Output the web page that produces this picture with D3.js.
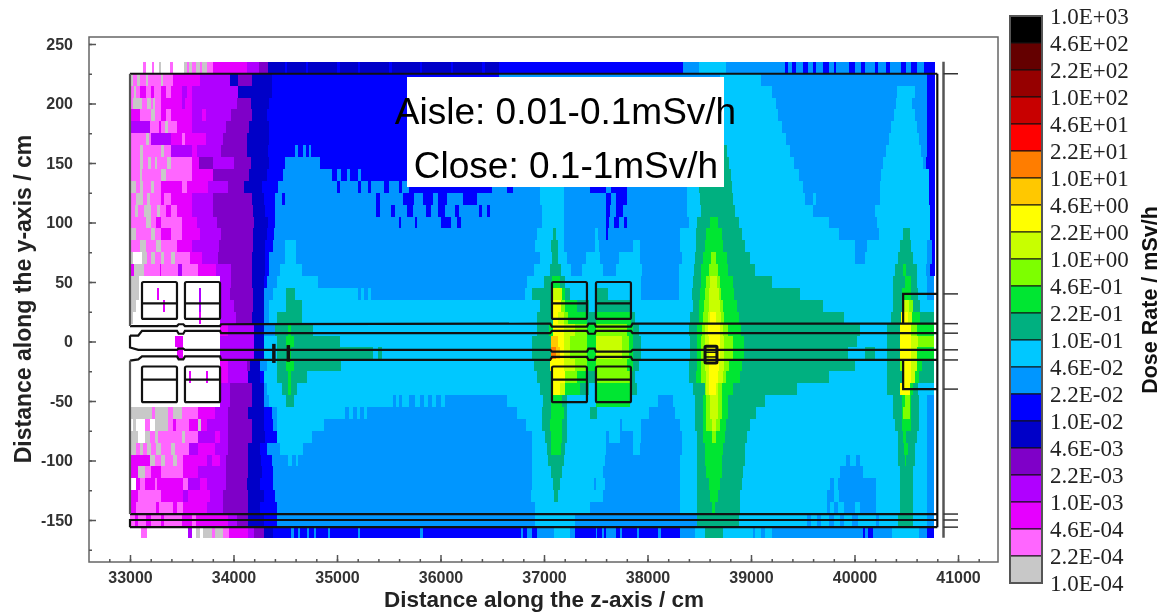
<!DOCTYPE html>
<html>
<head>
<meta charset="utf-8">
<script src="https://cdn.jsdelivr.net/npm/d3@7"></script>
<style>
  html, body { margin: 0; padding: 0; background: #fff; }
  svg { display: block; filter: blur(0.4px); }
</style>
</head>
<body>
<svg id="chart" width="1172" height="614"></svg>
<script>
// Legend, top to bottom
const doseLabels = ["1.0E+03", "4.6E+02", "2.2E+02", "1.0E+02", "4.6E+01", "2.2E+01", "1.0E+01",
  "4.6E+00", "2.2E+00", "1.0E+00", "4.6E-01", "2.2E-01", "1.0E-01", "4.6E-02", "2.2E-02", "1.0E-02",
  "4.6E-03", "2.2E-03", "1.0E-03", "4.6E-04", "2.2E-04", "1.0E-04"];
const doseColors = ["#000000", "#640000", "#960000", "#c80000", "#ff0000", "#ff7d00", "#ffc800",
  "#ffff00", "#c8ff00", "#7dff00", "#00e632", "#00b080", "#00c8ff", "#0096ff", "#0000ff", "#0000c8",
  "#7f00c8", "#b000ff", "#e600ff", "#ff66ff", "#c8c8c8"];
// letter of a dose bin, a = lowest (1.0E-04), u = highest
const binLetters = "abcdefghijklmnopqrstu";

const zMajorTicks = [33000, 34000, 35000, 36000, 37000, 38000, 39000, 40000, 41000];
const yMajorTicks = [250, 200, 150, 100, 50, 0, -50, -100, -150];

// One string per 10 cm row, from y=235 down to y=-165.
// Each token is a bin letter and the z where the run ends, in units of 100 cm. "." = below scale.
const doseRows = [
  ".331.3 b331.5 .332.1 b332.3 .332.8 a333 .333.9 b334.2 .335.2 a335.5 b335.7 a336 b336.4 a336.8 b337 a337.4 b338 c341.3 d342.5 e343.3 f345 g345.2 f347 g347.2 f350 g350.3 f352 g352.2 f355 g355.3 f358 g358.2 f361 g361.2 f364 g364.3 f365.7 g383.4 h385 i387.6 h393.3 g393.6 h394 g394.3 h395 g395.5 h396 g396.3 h397 g397.5 h398 g398.2 h399.5 g400 h400.6 g401 h402 g402.3 h403 g403.4 h404.5 g405 h405.5 g406 h406.7 g407.8",
  "a330.3 b330.7 a331 b331.5 a331.7 b333 a333.2 b334.2 c336.8 d339.7 f340.4 e341.8 f343.7 g365.7 h387 i391 h407 g407.8",
  "b330.4 a330.6 b331 c331.5 b332 c332.3 b333 c333.5 b334 c335 d335.5 c336 d340.4 f343.7 g365.7 h387 i392 h404.1 i405.8 h407 g407.8",
  "b330.3 a331.2 b331.6 a332 b332.2 a332.4 b333 c335 d335.3 c336 d340.3 e341.7 f343.4 g365.7 h387 i392.4 h404 i405.6 h407 g407.8",
  "c331 b332 a332.4 b333 c333.5 b334 c336 d337 c337.3 d339.8 e341.8 f343.2 g365.7 h387 i392.6 h403.8 i405.8 h407 g407.8",
  "d331.9 b332.8 c333 b333.4 a333.7 b334.5 c336 d339.3 e341.5 f343.4 g365.7 h387 i393 h403.5 i406 h407 g407.8",
  "b331.5 a331.8 b332 d334 c335 b335.3 c337.3 d339 e341.3 f343.4 g365.7 h387 i393.4 h403.3 i406.2 h407 g407.8",
  "b331 a331.3 b333 a333.3 b334 d336 c336.5 d338.8 e341.3 f343.3 g345.9 h346.2 g346.7 h347 g347.3 h347.5 g365.7 h385 j387.7 i393.8 h403 i406.4 h407 g407.8",
  "b331 a331.3 b331.7 a332 b332.4 a332.6 b333.6 a334 b336 c336.7 e338 d340 e341.7 f343.4 g345 h348.4 g365.7 h385 j387.9 i394.2 h402.8 i406.6 h406.9 g407.8",
  "b331 a331.2 b333 a333.5 b336 c338 e341.5 f343.2 g344.8 h349.5 g350 h350.4 g351 h351.3 g352 h352.3 g365.7 h385 j388.1 i394.6 h402.6 i407.2 g407.8",
  "a330.6 b331 a331.3 b332 a332.3 b333 c335 b335.5 c337.5 d339.5 e341 f342.8 g344.3 h350 g350.3 h352 g352.3 h353 g353.3 h354.5 g355 h356 g356.3 h357 g365 h366.4 g367 h369.6 i371.9 h374.4 g376 h376.5 g378 h383.8 i385 j388.2 i395 h402.5 i407.2 g407.8",
  "b330.6 a331.3 b331.6 a331.9 b333 c333.3 b334 c336 d338 e341.8 f342.9 g344 h344.7 g345 h353.8 g354.2 h356.4 g357.4 h358.3 g359.3 h359.8 g360.6 h362.2 g363.5 h369.6 i371.9 h376 g376.5 h377 g378 h383.8 i385.1 j388.3 i395.2 h396 i396.3 h402.5 i407.2 g407.8",
  "b330.5 a330.8 b331.4 a332 b332.6 a332.9 b333.5 c334 b334.5 c336 d338 e341.9 f343 g344 h353.8 g354.2 h355.2 g355.6 h356.8 g357.3 h358.6 g359.1 h359.8 g360.4 h361.4 g361.8 h363.7 g364 h364.5 g364.8 h369.8 i371.9 h376 g376.4 h377 g377.6 h383.8 i385.2 j388.5 i396 h402 i407.3 g407.8",
  "b331.5 a332 b332.5 c333 b335 c336.5 d338.4 e342 f343.3 g344 h356 g356.2 h357.5 g357.7 h360 g361 h361.6 g362 h369.8 i371.9 h376 g376.3 h376.8 g377.2 h377.7 g378 h384 i384.75 j386 k386.85 j388.8 i397.5 h402.2 i407.3 g407.8",
  "a330.6 b332 a332.4 b333 c334 b335 c336.8 d338.8 e341.9 f343.2 g343.9 h369.3 i370.9 j371.2 i371.9 h374.9 i375.2 h376 g376.2 h383.1 i384.7 j385.7 k387.2 j389.1 i398.5 h402.4 i404.7 j405.4 i407.3 g407.8",
  "b331 a331.5 b332.5 a333 b334.5 c336 d338.6 e341.9 f343 g343.8 h345 i346 h369.1 i370.7 j371.4 i371.9 h374.9 i375.3 h378.6 i379.3 h383.1 i384.7 j385.55 k387.3 j389.4 i400 h401.2 i404.4 j405.5 i407 h407.5 g407.8",
  "a330.3 .331.2 a331.6 b332 a332.4 b333 a333.3 b334 a334.3 b335.8 c337 d338.5 e341.75 f343 g343.4 h345 i346 h369.6 i370.8 j371.4 i372.2 h374.1 i375.4 h377.2 i379.3 h383.3 i384.6 j385.4 k386.1 l386.6 k387.7 j389.9 i400 h401 i404.2 j405.7 i407 h407.5 g407.8",
  "c330.4 a331.4 b332.9 c333 b334.6 d335 b336.6 c338.3 d339.8 e341.75 f343 g343.4 h344.5 i346.6 h369 i370.6 j371.6 i372.6 h373.7 i375.7 h377 i379.5 h383 i384.5 j385.2 k385.9 l386.85 k387.8 j390.4 i403.9 j404.7 k405 j406 i406.9 h407.3 g407.8",
  "a330.9 .338.7 d339.8 e341.75 f342.9 g343.2 h344.2 i348.2 h368.4 i370 j370.8 k371.5 j372 i379.4 h383 i384.4 j385.2 k385.7 l386 m386.7 l387 k388.3 j392 i403.7 j404.9 k405.5 j406 i407 h407.7",
  "a330.9 .332.6 c332.8 .336.7 d336.9 .338.7 d339.7 e341.9 f342.9 h343.8 i345.1 j345.9 i352 h352.3 i352.6 h353 i353.3 h368.2 i368.8 j370.8 m371.7 k372 j372.5 i375 j376.2 i379.4 h383 i384.3 j385.1 k385.6 l385.9 m386.9 l387.1 k388.4 j394.7 i403.7 j404.6 k405.5 j406.1 i407 h407.7",
  "a330.6 .333.2 c333.4 .336.7 d336.9 .338.7 d340 e341.9 f342.9 h343.4 i345.1 j346.6 i369.6 j370.8 n371.6 l372 k373.2 j374.3 i375 j378.4 i384.4 j385 k385.5 l385.9 m387 l387.3 k388.6 j397 i403.7 j404.6 m405.3 l405.7 j406.3 i407.7",
  "a330.3 .336.7 c336.9 .338.7 d340.2 e341.75 f342.9 h343.4 i344.2 j346.6 i369.3 j370.9 n371.4 m371.9 l372.3 k374.2 j375 k378.4 j378.8 i384.1 j385 k385.4 l385.8 m386 n386.6 m387.1 l387.4 k388.8 j399 i403.5 j404.5 n405.2 m405.6 k406.3 j407.7",
  ".338.7 c339.5 d342 f342.9 h344 j345.3 k345.6 j347.7 i369.3 j370.5 k370.9 n371.9 m373 l374.2 k375 l378 k378.6 j379.2 i384 j384.8 k385.3 l385.6 m385.8 n387 m387.3 l387.8 k389 j400.5 i403.1 j404.4 n405.5 l406 k407.7",
  ".334.3 c335.15 .338.7 d342 f342.9 i344.2 j345.1 k345.8 j350.3 i368.8 j370.7 o371.4 n371.9 m372.5 l374.2 k375 m377.5 l378.2 k378.6 j379.4 i384.1 j384.8 k385.2 l385.6 m385.9 n387 m387.4 l388.3 k389.3 j400.2 i403.1 j404.4 n405.5 m406.1 l407.7",
  ".334.5 c335.15 .338.7 d342 f342.9 i344.2 j345.3 k345.6 j353.5 i354 j354.3 i368.8 j370.7 p371.2 o371.5 n371.9 m372.5 l374.2 k375 m377.5 l378.2 k378.6 j379.4 i384.1 j384.8 k385.2 l385.6 m385.9 n387 m387.4 l388.3 k389.3 j399.4 i401 j402 i403.1 j404.4 n405.5 m406 k407.7",
  ".338.7 c339.5 d341.3 e341.6 f342.6 h343.2 i344.2 j345.1 k345.8 j350.4 i369 j370.6 n371.9 m373 l374.2 k375 l378 k378.6 j379.2 i384 j384.8 k385.2 l385.6 m385.9 n386.9 m387.4 l387.9 k389.1 j400 i403.1 j404.4 l404.7 n405.5 m406 k406.5 j407.7",
  ".335.7 c335.9 .337.3 c337.5 .338.7 c339.5 d341.4 f342.6 g342.9 i344.2 j345.3 k345.6 j347.1 i369.3 j370.9 n372 l373.2 k374.2 j375 l378.4 j378.8 i384 j384.7 k385.2 l385.7 m385.9 n386.8 m387.3 l387.6 k388.9 j397.5 i403.1 j404.65 n405.5 m405.8 k406.2 j407.7",
  ".338.7 d339.7 e341.75 f342.9 h343.2 i344.7 j345.3 k345.6 j346.1 i369.6 j370.8 n371.5 m372 k373.5 j374.3 i375 k378.4 j379 i384.4 j385.55 l385.7 m385.9 n386.6 m386.8 l387.2 k388.3 j394.4 i403.1 j404.4 n405.4 k405.7 j406.1 i407.7",
  ".338.7 d339.7 e341.75 f342.9 h343.4 i345.1 j345.8 i355.4 h355.7 i356 h356.3 i357 h357.5 i358 h358.4 i358.8 h359.2 i359.6 h360 i360.4 h366.4 i369.9 j370.7 k371.7 j372.2 i375 k378.3 i381 h382.5 i384.6 j385.4 k385.7 l386 m386.8 l387.2 k387.8 j391.35 i403.7 j404.55 k404.9 l405.4 k405.5 j406.2 i407 h407.7",
  "a332.1 b332.4 a333.7 b334.2 a335 b336.6 c338.2 d339.5 e341.4 f342.9 g343.7 h344.2 i350.8 h351.2 i351.5 h351.9 i352.2 h352.6 i352.9 h367.4 i369.8 j370.7 k371.9 j372.2 i374.4 j375.1 i380.1 h382.7 i384.6 j385.4 k385.7 l386 m386.8 l387.2 k387.8 j390.5 i403.7 j404.55 k404.7 l405.4 k405.5 j406.2 i407 h407.7",
  ".330.3 a330.6 .331.45 b331.9 .332.4 a333.7 b334.2 c334.4 b335.7 c336.6 a336.9 c337.4 d339.5 e341.75 f342.9 g343.85 h344.2 i348.7 h368.3 i369.8 j370.6 k371.7 j372.2 i377.3 h377.5 i379.4 h383.1 i384.6 j385.4 k385.7 l386.2 m386.6 l387 k387.6 j389.9 i403.9 j404.55 k405.5 j406.2 i407 h407.7",
  "a330.8 .331.45 a331.9 b332.4 a332.7 b335 a335.3 b336.6 d338.2 c338.7 d339.5 e341.75 f343 g344.2 i347.6 h368.8 i370.1 j370.7 k371.7 j372.2 i376 h376.3 i377.3 h378.6 i379.4 h383.3 i384.75 j385.4 k386.2 l386.6 k387.5 j389.6 i404.2 j404.7 k405 j406 i407 h407.7",
  "a330.6 b331 a331.3 b331.6 a332 b332.5 a333 b334 a334.3 b335.7 d336.6 c338.2 d339.5 e341.4 f342.6 g343.2 h344.5 i346.75 h368.8 i370.3 j370.7 k371.6 j372 i376 h378.6 i379.3 h383.3 i384.75 j385.55 k387.3 j389.4 i404.2 j404.8 k405.2 j405.8 i407 h407.7",
  "c331.9 a332.4 b333 a333.4 b334.2 a334.5 b335.15 c337.4 d337.9 c338.7 d339.3 e341.4 f342.7 g343.7 h345.3 i345.7 h346 i346.2 h368.8 i370.4 j371.9 i375.9 h383.1 i384.75 j385.55 k387.2 j389.4 i399.2 h399.6 i400.1 h400.5 i404.2 j404.9 k405 j405.8 i407 h407.7",
  "c330.8 a331.45 b332 c333 b335.15 c336.6 d339.3 e341.4 f342.8 g343.85 h368.8 i370.7 j371.7 i375.7 h383.1 i384.75 j385.7 k387.2 j389.25 i398.6 h400.85 i404.4 j405.7 i407 h407.7",
  ".330.6 c330.95 b331.45 c332.4 b332.6 c335.15 b335.6 d336.75 c337.4 d339.3 e341.3 f342.6 g343.85 h368.8 i370.85 j371.55 i374.8 h375 i375.9 h383.1 i384.75 j385.9 k387 j389.1 i397.6 h398 i398.4 h402.1 i404.4 j405.7 i407 h407.7",
  "c330.8 b333 c335.15 d335.6 c337.7 d339 e341.4 f342.9 g344 h368.7 i370.96 j371.4 i375.7 h383.1 i384.75 j386 k386.8 j388.9 i397.3 h398 i398.5 h402.1 i404.4 j405.7 i407 h407.7",
  "c330.6 b332.5 c332.8 b334.2 c334.5 b335.15 c337.4 d339 e341.4 f342.6 g344.2 h369.1 i374.44 h383.1 i384.75 j386.2 k386.5 j388.9 i397.3 h397.6 i398 h398.4 i399 h400 i400.5 h402.1 i404.4 j405.7 i407 h407.7",
  "b330.5 c330.8 b331.5 c332 b333 c333.3 b335 c336 b336.4 c339.5 d340.3 e341.4 f342.9 g344.2 h369.1 i373 h384.75 j388.8 i395.4 h395.8 i396.4 h396.8 i397.5 h398 i398.6 h399 i399.8 h400.3 i402.1 h402.4 i404.2 j405.7 i407 h407.7",
  ".331.1 b331.6 .335.6 d336 .336.4 a336.75 .337.1 a337.9 b338.2 a339 b339.6 c341.4 d342 e342.9 f343.85 g345.6 h345.8 g346.2 h346.4 g347.1 h347.3 g347.8 h348 g349.1 h349.3 g352 h352.2 g358 h358.3 g367.8 h368 g368.4 h368.8 g369.3 h371 i372.5 h373 g375 h375.1 g375.6 h375.8 g376 h377 g377.3 h377.5 g379 h379.2 g381 h381.3 g383.1 h384.6 i385.55 j387.3 i390.2 h390.4 i391 h391.4 i392 h400.85 g401 h401.3 g401.8 h403.6 i406.2 h407 g407.7",
];

// Machine outline drawn over the map, as [z, y] in cm
const pipeLines = [
  [[33000, 13], [33454, 13], [33470, 14.5], [33515, 14.5], [33531, 13], [33870, 13], [33880, 14.5], [37060, 15], [37077, 12.5], [37415, 12.5], [37430, 15], [37490, 15], [37502, 12.5], [37840, 12.5], [37855, 15], [40800, 15]],
  [[33000, 5], [33080, 5], [33116, 9], [33454, 9], [33470, 6.5], [33515, 6.5], [33531, 9], [33870, 9], [33880, 7], [37060, 7], [37077, 9], [37415, 9], [37430, 6.5], [37490, 6.5], [37502, 9], [37840, 9], [37855, 7], [40800, 7]],
  [[33000, 5], [33000, -5], [33080, -7], [33454, -7], [33470, -6], [33515, -6], [33531, -7], [33870, -7], [37060, -7], [37077, -8.5], [37415, -8.5], [37430, -6], [37490, -6], [37502, -8.5], [37840, -8.5], [37855, -7], [40800, -7]],
  [[33000, -16], [33080, -15], [33116, -12.5], [33454, -12.5], [33470, -15], [33515, -15], [33531, -12.5], [33870, -12.5], [33880, -15.5], [37060, -15.5], [37077, -13], [37415, -13], [37430, -15.5], [37490, -15.5], [37502, -13], [37840, -13], [37855, -15.5], [40800, -15.5]],
  [[33000, 225], [40800, 225]],
  [[33000, -145], [40800, -145]],
  [[33000, -156], [33000, -150], [40800, -150]],
  [[33000, -156], [40800, -156]],
  [[40800, 225], [40800, -156]],
  [[40800, 40], [40470, 40], [40470, 15]],
  [[40800, -40], [40470, -40], [40470, -15.5]],
];
// Left wall, greyer than the rest of the outline
const leftWall = [
  [[33000, 225], [33000, 13]],
  [[33000, -16], [33000, -145]],
];
// Cell boxes, z0, z1 and the y of their top, middle and bottom lines
const cellZ = [[33116, 33454], [33531, 33870], [37077, 37415], [37502, 37840]];
const cellY = [[50, 32, 19], [-21, -32, -51]];
// Short thick marks on the pipe, [z, y0, y1]
const thickMarks = [[34390, -2, -18], [34530, -3, -17]];
const collimator = { z: [38556, 38671], y: [-4, -18], inner: [-9, -13] };
// Right hand end wall, its ticks in y
const wallTicks = [225, 40, 15, 7, -7, -15.5, -40, -145, -150, -156];

const z = d3.scaleLinear().domain([33000, 41000]).range([130, 958]);
const y = d3.scaleLinear().domain([250, -150]).range([44, 520]);

const frame = { left: 89, right: 998, top: 37, bottom: 562 };

const svg = d3.select("#chart");

// Dose map
const mapGroup = svg.append("g").attr("shape-rendering", "crispEdges");
doseRows.forEach((row, i) => {
  const yTop = 235 - i * 10;
  let start = 33000;
  row.split(" ").forEach((token) => {
    const end = +token.slice(1) * 100;
    const bin = binLetters.indexOf(token[0]);
    if (bin >= 0) {
      mapGroup
        .append("rect")
        .attr("x", z(start))
        .attr("y", y(yTop))
        .attr("width", z(end) - z(start))
        .attr("height", y(yTop - 10) - y(yTop))
        .attr("fill", doseColors[doseColors.length - 1 - bin]);
    }
    start = end;
  });
});

// Outline
const line = d3.line().x((d) => z(d[0])).y((d) => y(d[1]));
const outline = svg.append("g").attr("fill", "none").attr("stroke", "#111").attr("stroke-width", 2.2);
outline.selectAll(".pipe").data(pipeLines).enter().append("path").attr("class", "pipe").attr("d", line);
outline.selectAll(".wall").data(leftWall).enter().append("path").attr("class", "wall").attr("stroke", "#555").attr("d", line);

cellZ.forEach(([z0, z1]) => {
  cellY.forEach(([top, mid, bottom]) => {
    outline
      .append("rect")
      .attr("x", z(z0))
      .attr("y", y(top))
      .attr("width", z(z1) - z(z0))
      .attr("height", y(bottom) - y(top))
      .attr("rx", 1.5);
    outline.append("path").attr("d", line([[z0, mid], [z1, mid]]));
  });
});

thickMarks.forEach(([mz, y0, y1]) => {
  outline.append("path").attr("stroke-width", 3.5).attr("d", line([[mz, y0], [mz, y1]]));
});

outline
  .append("rect")
  .attr("x", z(collimator.z[0]))
  .attr("y", y(collimator.y[0]))
  .attr("width", z(collimator.z[1]) - z(collimator.z[0]))
  .attr("height", y(collimator.y[1]) - y(collimator.y[0]))
  .attr("stroke-width", 3)
  .attr("rx", 1);
collimator.inner.forEach((v) => {
  outline.append("path").attr("stroke-width", 1.5).attr("d", line([[collimator.z[0], v], [collimator.z[1], v]]));
});

// End wall and its ticks
svg
  .append("line")
  .attr("x1", z(40860)).attr("x2", z(40860))
  .attr("y1", y(235)).attr("y2", y(-165))
  .attr("stroke", "#555").attr("stroke-width", 2.5);
svg
  .selectAll(".wall-tick")
  .data(wallTicks)
  .enter()
  .append("line")
  .attr("class", "wall-tick")
  .attr("x1", z(40860)).attr("x2", z(41000))
  .attr("y1", (d) => y(d)).attr("y2", (d) => y(d))
  .attr("stroke", "#333").attr("stroke-width", 1.5);

// Frame and axes, ticks point into the frame
svg
  .append("rect")
  .attr("x", frame.left).attr("y", frame.top)
  .attr("width", frame.right - frame.left).attr("height", frame.bottom - frame.top)
  .attr("fill", "none").attr("stroke", "#666").attr("stroke-width", 1.5);

const axisFont = "'Liberation Sans', Arial, sans-serif";

const zMinor = d3.range(32800, 41400, 200);
const yMinor = d3.range(-175, 275, 25);
// plain hyphen in the negative labels
const plainFormat = (d) => String(d);

function styleAxis(g) {
  g.select(".domain").remove();
  g.selectAll(".tick line").attr("stroke", "#555").attr("stroke-width", 1.5);
  g.selectAll("text")
    .attr("font-family", axisFont)
    .attr("font-weight", "bold")
    .attr("font-size", 16)
    .attr("fill", "#333");
}

svg.append("g")
  .attr("transform", `translate(0,${frame.bottom})`)
  .call(d3.axisBottom(z).tickValues(zMinor).tickSize(-3).tickFormat(""))
  .call(styleAxis);
svg.append("g")
  .attr("transform", `translate(0,${frame.bottom})`)
  .call(d3.axisBottom(z).tickValues(zMajorTicks).tickSizeInner(-7).tickSizeOuter(0).tickPadding(10).tickFormat(plainFormat))
  .call(styleAxis);
svg.append("g")
  .attr("transform", `translate(${frame.left},0)`)
  .call(d3.axisLeft(y).tickValues(yMinor).tickSize(-3).tickFormat(""))
  .call(styleAxis);
svg.append("g")
  .attr("transform", `translate(${frame.left},0)`)
  .call(d3.axisLeft(y).tickValues(yMajorTicks).tickSizeInner(-7).tickSizeOuter(0).tickPadding(16).tickFormat(plainFormat))
  .call(styleAxis);

// Axis titles
svg.append("text")
  .attr("x", 544).attr("y", 607)
  .attr("text-anchor", "middle")
  .attr("font-family", axisFont).attr("font-weight", "bold").attr("font-size", 22.5).attr("fill", "#222")
  .text("Distance along the z-axis / cm");
svg.append("text")
  .attr("transform", "translate(31,299) rotate(-90)")
  .attr("text-anchor", "middle")
  .attr("font-family", axisFont).attr("font-weight", "bold").attr("font-size", 23).attr("fill", "#222")
  .text("Distance along the y-axis / cm");

// Note box
svg.append("rect").attr("x", 407).attr("y", 77).attr("width", 317).attr("height", 110).attr("fill", "#fff");
svg.append("text")
  .attr("x", 565.5).attr("y", 124)
  .attr("text-anchor", "middle")
  .attr("font-family", axisFont).attr("font-size", 37).attr("fill", "#000")
  .text("Aisle: 0.01-0.1mSv/h");
svg.append("text")
  .attr("x", 566).attr("y", 178)
  .attr("text-anchor", "middle")
  .attr("font-family", axisFont).attr("font-size", 37).attr("fill", "#000")
  .text("Close: 0.1-1mSv/h");

// Legend
const legendTop = 16;
const legendStep = 27;
const legendGroup = svg.append("g");
const legendY = d3
  .scaleBand()
  .domain(doseColors)
  .range([legendTop, legendTop + legendStep * doseColors.length])
  .paddingInner(0);

legendGroup
  .selectAll("rect")
  .data(doseColors)
  .enter()
  .append("rect")
  .attr("x", 1010)
  .attr("y", (d) => legendY(d))
  .attr("width", 32)
  .attr("height", legendY.bandwidth())
  .attr("fill", (d) => d)
  .attr("stroke", "#111")
  .attr("stroke-width", 1);

legendGroup
  .append("rect")
  .attr("x", 1010)
  .attr("y", legendTop)
  .attr("width", 32)
  .attr("height", legendStep * doseColors.length)
  .attr("fill", "none")
  .attr("stroke", "#555")
  .attr("stroke-width", 2);

legendGroup
  .selectAll("text")
  .data(doseLabels)
  .enter()
  .append("text")
  .attr("x", 1050)
  .attr("y", (d, i) => legendTop + legendStep * i)
  .attr("dy", "0.35em")
  .attr("font-family", "'Liberation Serif', 'Times New Roman', serif")
  .attr("font-size", 23)
  .attr("fill", "#222")
  .text((d) => d);

svg.append("text")
  .attr("transform", "translate(1157,300) rotate(-90)")
  .attr("text-anchor", "middle")
  .attr("font-family", axisFont).attr("font-weight", "bold").attr("font-size", 21.5).attr("fill", "#111")
  .text("Dose Rate / mSv/h");
</script>
</body>
</html>
